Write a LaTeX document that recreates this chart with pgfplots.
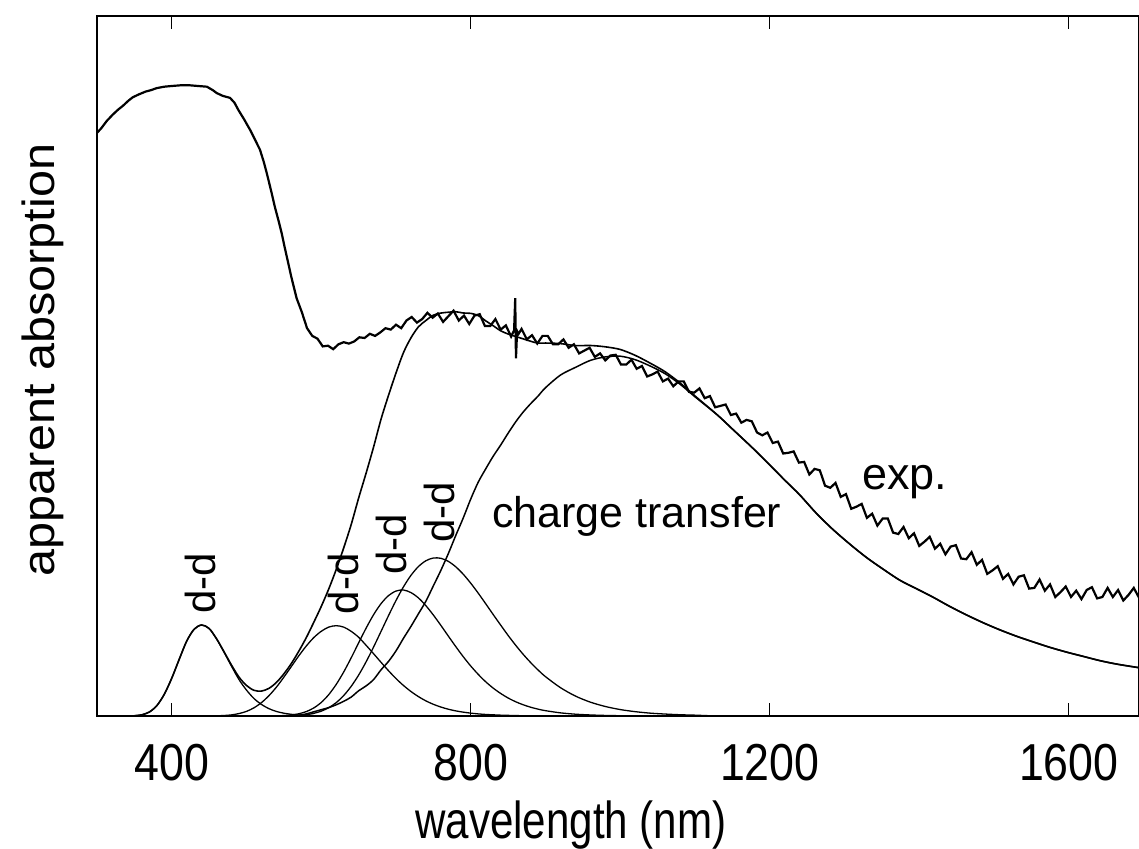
\documentclass[border=0pt]{standalone}
\usepackage{pgfplots}
\pgfplotsset{compat=1.18}
\usepackage{pgfplotstable}
\usepackage{fontspec}
\setmainfont{Liberation Sans}
\newfontfamily\tickfont[FakeStretch=0.86]{Liberation Sans}
\newfontfamily\xlabfont[FakeStretch=0.81]{Liberation Sans}
\newfontfamily\ylabfont[FakeStretch=1.08]{Liberation Sans}

\pgfplotstableread{
lam y
300 .833
306 .840
313 .850
321 .859
328 .866
335 .872
342 .879
348 .884
356 .888
365 .892
372 .894
380 .897
390 .899
400 .900
412 .901
424 .901
435 .900
447 .899
455 .894
460 .890
468 .886
478 .883
484 .876
489 .866
497 .852
505 .837
512 .822
518 .809
523 .792
527 .776
533 .750
538 .727
543 .707
547 .690
551 .670
555 .651
560 .627
567 .597
574 .577
581 .554
588 .543
595 .539
602 .528
609 .529
616 .524
623 .531
630 .534
637 .532
644 .535
651 .541
658 .540
665 .546
672 .543
679 .548
686 .554
693 .552
700 .559
707 .554
714 .565
721 .570
728 .562
735 .567
742 .576
749 .569
756 .575
763 .563
770 .571
777 .579
784 .565
791 .572
798 .560
805 .572
812 .574
819 .557
826 .557
833 .567
840 .552
847 .558
854 .542
858 .551
859.5 .597
860.5 .511
862 .550
864 .546
868 .553
875 .538
882 .544
889 .532
896 .543
903 .543
910 .531
917 .531
924 .538
931 .526
938 .531
945 .518
952 .522
959 .526
966 .513
973 .518
980 .508
987 .515
994 .516
1001 .502
1008 .502
1015 .509
1022 .496
1029 .500
1036 .485
1043 .488
1050 .492
1057 .478
1064 .482
1071 .471
1078 .478
1085 .478
1092 .463
1099 .462
1106 .468
1113 .454
1120 .457
1127 .441
1134 .443
1141 .445
1148 .430
1155 .432
1162 .419
1169 .423
1176 .421
1183 .405
1190 .401
1197 .405
1204 .390
1211 .392
1218 .375
1225 .376
1232 .378
1239 .362
1246 .363
1253 .345
1260 .353
1267 .351
1274 .329
1281 .326
1288 .333
1295 .313
1302 .317
1309 .296
1316 .299
1323 .303
1330 .283
1337 .289
1344 .272
1351 .282
1358 .282
1365 .262
1372 .260
1379 .270
1386 .254
1393 .261
1400 .243
1407 .249
1414 .256
1421 .239
1428 .246
1435 .231
1442 .242
1449 .244
1456 .225
1463 .224
1470 .234
1477 .216
1484 .223
1491 .203
1498 .208
1505 .214
1512 .196
1519 .203
1526 .188
1533 .199
1540 .201
1547 .182
1554 .183
1561 .195
1568 .179
1575 .188
1582 .170
1589 .177
1596 .185
1603 .170
1610 .179
1617 .167
1624 .180
1631 .184
1638 .168
1645 .170
1652 .183
1659 .170
1666 .180
1673 .165
1680 .173
1687 .183
1694 .169
}\expdata

\pgfplotstableread{
lam d1 d2 d3 d4 ct sum
350 .0004 0 0 0 0 .0004
360 .0017 0 0 0 0 .0017
370 .0057 0 0 0 0 .0057
380 .0147 0 0 0 0 .0147
390 .031 0 0 0 0 .031
400 .054 0 0 0 0 .054
410 .081 0 0 0 0 .081
420 .107 0 0 0 0 .107
430 .124 0 0 0 0 .124
440 .130 0 0 0 0 .130
450 .125 0 0 0 0 .125
460 .110 .0003 0 0 0 .1103
470 .091 .0007 0 0 0 .0917
480 .071 .0016 0 0 0 .0726
490 .052 .0035 0 0 0 .0555
500 .037 .0066 0 0 0 .0436
510 .025 .0117 0 0 0 .0367
520 .0165 .0191 0 0 0 .0356
530 .0105 .029 0 0 0 .0395
540 .0065 .0412 .0002 0 0 .0479
550 .004 .0555 .0006 .0001 0 .0602
560 .0024 .0707 .0015 .0004 0 .075
570 .0014 .086 .0032 .001 .001 .0926
580 .0008 .100 .0063 .0019 .003 .112
590 .0005 .112 .0115 .0038 .006 .1338
600 .0003 .121 .0193 .0069 .009 .1565
610 0 .127 .0305 .0119 .012 .1814
620 0 .129 .0451 .0191 .016 .2092
630 0 .127 .0628 .0292 .021 .2400
640 0 .121 .083 .0423 .027 .2733
650 0 .1125 .1044 .0584 .036 .3113
660 0 .101 .1255 .0774 .043 .3469
670 0 .089 .1447 .0985 .052 .3842
680 0 .0767 .1605 .1209 .066 .4241
690 0 .0647 .172 .1434 .078 .4581
700 0 .0535 .1785 .165 .093 .49
710 0 .0436 .18 .1845 .111 .5191
720 0 .035 .1763 .2009 .128 .5402
730 0 .0277 .1687 .2135 .146 .5559
740 0 .0216 .1576 .2218 .164 .565
750 0 .0167 .1442 .2257 .186 .5726
760 0 .0128 .1295 .2253 .208 .5756
770 0 .0097 .1142 .2209 .232 .5768
780 0 .0073 .0991 .2131 .258 .5775
790 0 .0055 .0847 .2025 .283 .5757
800 0 .0041 .0714 .1897 .310 .5752
810 0 .003 .0595 .1755 .334 .572
820 0 .0022 .0489 .1604 .353 .5645
830 0 .0017 .0399 .145 .371 .5576
840 0 .0012 .0322 .1299 .387 .5503
850 0 .0009 .0257 .1151 .404 .5457
860 0 .0006 .0204 .1012 .420 .5422
870 0 .0004 .0161 .0883 .434 .5388
880 0 .0003 .0126 .0765 .446 .5354
890 0 0 .0098 .0658 .457 .5326
900 0 0 .0076 .0562 .469 .5328
920 0 0 .0045 .0405 .487 .532
940 0 0 .0026 .0285 .498 .5291
960 0 0 .0015 .0198 .508 .5293
980 0 0 .0008 .0136 .513 .5274
1000 0 0 .0004 .0092 .514 .5236
1020 0 0 0 .0062 .509 .5152
1040 0 0 0 .0041 .500 .5041
1060 0 0 0 .0028 .489 .4918
1080 0 0 0 .0018 .474 .4758
1100 0 0 0 .0012 .456 .4572
1130 0 0 0 0 .430 .430
1151 0 0 0 0 .409 .409
1175 0 0 0 0 .385 .385
1196 0 0 0 0 .363 .363
1220 0 0 0 0 .337 .337
1240 0 0 0 0 .316 .316
1262 0 0 0 0 .290 .290
1285 0 0 0 0 .266 .266
1310 0 0 0 0 .243 .243
1330 0 0 0 0 .226 .226
1350 0 0 0 0 .211 .211
1374 0 0 0 0 .194 .194
1396 0 0 0 0 .182 .182
1418 0 0 0 0 .170 .170
1440 0 0 0 0 .157 .157
1464 0 0 0 0 .144 .144
1486 0 0 0 0 .133 .133
1508 0 0 0 0 .123 .123
1530 0 0 0 0 .114 .114
1552 0 0 0 0 .106 .106
1575 0 0 0 0 .098 .098
1598 0 0 0 0 .091 .091
1620 0 0 0 0 .085 .085
1642 0 0 0 0 .079 .079
1665 0 0 0 0 .074 .074
1694 0 0 0 0 .069 .069
}\fitdata

\begin{document}
\begin{tikzpicture}
\begin{axis}[
  scale only axis, width=1042bp, height=700bp,
  xmin=300, xmax=1694, ymin=0, ymax=1,
  clip=false,
  xtick={400,800,1200,1600}, ytick=\empty,
  minor tick num=0,
  tick align=inside, major tick length=13bp,
  xtick style={line width=0.8bp, black},
  axis line style={line width=1.4bp},
  /pgf/number format/assume math mode=true,
  /pgf/number format/1000 sep={},
  xticklabel style={font=\tickfont\fontsize{52bp}{52bp}\selectfont, anchor=base, yshift=-64bp},
]
\addplot[black, line width=1.3bp, smooth] table[x=lam, y=d1] {\fitdata};
\addplot[black, line width=1.3bp, smooth] table[x=lam, y=d2] {\fitdata};
\addplot[black, line width=1.3bp, smooth] table[x=lam, y=d3] {\fitdata};
\addplot[black, line width=1.3bp, smooth] table[x=lam, y=d4] {\fitdata};
\addplot[black, line width=1.5bp, smooth] table[x=lam, y=ct] {\fitdata};
\addplot[black, line width=1.6bp, smooth] table[x=lam, y=sum] {\fitdata};
\addplot[black, line width=2.2bp] table[x=lam, y=y] {\expdata};
\addplot[black, line width=2.5bp] coordinates {(350,0) (1694,0)};

\coordinate (bl) at (rel axis cs:0,0);
\coordinate (tr) at (rel axis cs:1,1);

\node[rotate=90, anchor=base, inner sep=0, font=\fontsize{42bp}{42bp}\selectfont] at (axis cs:457.9,0.19) {d-d};
\node[rotate=90, anchor=base, inner sep=0, font=\fontsize{42bp}{42bp}\selectfont] at (axis cs:649.2,0.1886) {d-d};
\node[rotate=90, anchor=base, inner sep=0, font=\fontsize{42bp}{42bp}\selectfont] at (axis cs:714.7,0.2457) {d-d};
\node[rotate=90, anchor=base, inner sep=0, font=\fontsize{42bp}{42bp}\selectfont] at (axis cs:778.9,0.2914) {d-d};
\node[anchor=base west, inner sep=0, font=\fontsize{43bp}{43bp}\selectfont] at (axis cs:828.4,0.2686) {charge transfer};
\node[anchor=base west, inner sep=0, font=\fontsize{45bp}{45bp}\selectfont] at (axis cs:1323.4,0.3229) {exp.};

\node[anchor=base, inner sep=0, font=\xlabfont\fontsize{52bp}{52bp}\selectfont] at ([yshift=-122bp]axis cs:934,0) {wavelength (nm)};
\node[rotate=90, anchor=base, inner sep=0, font=\ylabfont\fontsize{45bp}{45bp}\selectfont] at ([xshift=-42bp]rel axis cs:0,0.5086) {apparent absorption};
\end{axis}
\pgfresetboundingbox
\path[use as bounding box] ([shift={(-97bp,-133bp)}]bl) rectangle ([shift={(0bp,16bp)}]tr);
\end{tikzpicture}
\end{document}
